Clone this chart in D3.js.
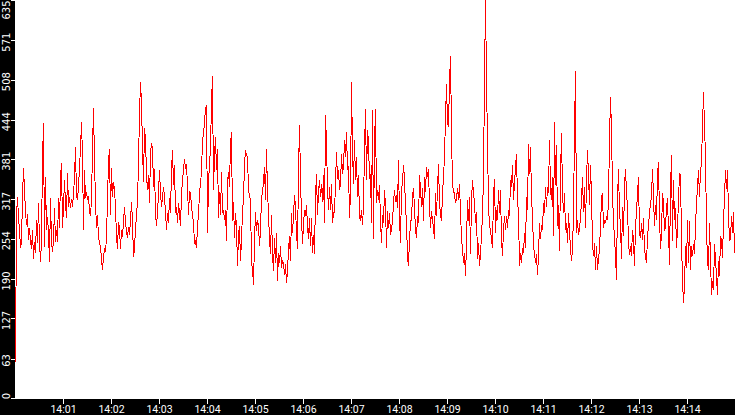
<!DOCTYPE html>
<meta charset="utf-8">
<style>

body {
  margin: 0;
  background: #fff;
}

svg {
  display: block;
}

path.trace {
  fill: none;
  stroke: #ff0000;
  stroke-width: 1;
  shape-rendering: crispEdges;
}

.tick-line {
  stroke: #fff;
  stroke-width: 1;
  shape-rendering: crispEdges;
}

.ylabel {
  fill: #fff;
  font-family: 'DejaVu Sans', sans-serif;
  font-size: 10px;
}

.xlabel {
  fill: #fff;
  font-family: Roboto, sans-serif;
  font-size: 10.5px;
}

</style>
<body>
<div id='chart'></div>
<script src="https://cdn.jsdelivr.net/npm/d3@7/dist/d3.min.js"></script>
<script>
// one sample every 1.25 s from 14:00:00 to 14:15:00
var startTime = "14:00:00";
var endTime = "14:15:00";
var stepMs = 1250;

var yTickLabels = [0, 63, 127, 190, 254, 317, 381, 444, 508, 571, 635];
var xTickLabels = ["14:01", "14:02", "14:03", "14:04", "14:05", "14:06", "14:07",
                   "14:08", "14:09", "14:10", "14:11", "14:12", "14:13", "14:14"];

var values = [
  // 14:00 - 14:01:30
  57, 292, 321, 287, 268, 240, 248, 321, 367, 332,
  297, 276, 294, 252, 271, 251, 237, 268, 221, 249,
  232, 284, 248, 311, 248, 217, 252, 379, 438, 241,
  352, 268, 289, 264, 217, 319, 248, 233, 252, 303,
  249, 268, 249, 319, 271, 352, 375, 271, 305, 348,
  311, 287, 359, 305, 321, 303, 318, 305, 325, 352,
  400, 321, 316, 337, 367, 400, 440, 387, 268, 364,
  319, 329, 316, 322, 297, 291, 316, 398, 462, 379,
  313, 271, 292, 256, 248, 241, 221, 205, 225, 237,
  233, 256, 319, 376, 398, 292, 367, 321, 344, 332,
  305, 257, 237, 281, 271, 237, 268, 257, 281, 305,
  281, 264, 256, 273, 260, 284, 313, 281, 225,
  // 14:02 - 14:04
  237, 271, 290, 316, 374, 454, 504, 469, 401, 345,
  430, 414, 356, 332, 356, 311, 390, 406, 398, 337,
  366, 295, 274, 295, 327, 364, 327, 305, 321, 337,
  321, 297, 268, 295, 279, 319, 295, 364, 395, 340,
  372, 295, 305, 279, 311, 295, 274, 324, 348, 364,
  382, 366, 374, 337, 292, 329, 327, 305, 292, 279,
  247, 250, 239, 274, 292, 327, 342, 361, 411, 422,
  440, 461, 467, 263, 342, 374, 398, 472, 514, 332,
  387, 417, 364, 398, 287, 329, 292, 361, 295, 300,
  284, 300, 250, 345, 361, 337, 406, 424, 282, 313,
  255, 295, 274, 210, 260, 274, 218, 252, 297, 319,
  372, 395, 387, 385, 334, 321, 316, 218, 205, 181,
  250,
  // 14:05 - 14:07
  297, 266, 284, 276, 242, 268, 321, 327, 345, 369,
  316, 398, 329, 295, 253, 229, 292, 231, 202, 255,
  215, 263, 186, 231, 215, 242, 208, 218, 215, 197,
  213, 184, 202, 237, 258, 218, 295, 263, 292, 324,
  305, 263, 237, 361, 435, 350, 290, 245, 276, 300,
  290, 308, 274, 253, 287, 242, 287, 231, 260, 229,
  321, 358, 292, 327, 348, 321, 342, 313, 356, 279,
  451, 406, 334, 300, 337, 300, 342, 279, 295, 297,
  342, 393, 350, 364, 332, 340, 390, 358, 369, 411,
  385, 424, 366, 369, 287, 327, 504, 398, 342, 411,
  348, 385, 321, 356, 290, 282, 300, 276, 305, 398,
  461, 348, 427, 408, 350, 358, 279, 459, 253, 408,
  // 14:07:30 - 14:10
  461, 311, 332, 316, 340, 282, 247, 292, 279, 332,
  308, 239, 298, 271, 295, 260, 271, 282, 311, 332,
  313, 324, 303, 380, 287, 247, 332, 345, 372, 350,
  305, 279, 226, 210, 253, 279, 287, 321, 335, 303,
  268, 255, 290, 279, 356, 335, 305, 335, 282, 353,
  329, 369, 353, 366, 308, 271, 298, 284, 271, 253,
  327, 290, 335, 374, 311, 292, 282, 327, 353, 385,
  446, 501, 440, 432, 504, 546, 427, 337, 332, 324,
  311, 319, 335, 316, 342, 297, 255, 237, 216, 231,
  194, 247, 316, 282, 321, 229, 316, 348, 327, 311,
  279, 297, 221, 247, 210, 229, 260, 290, 356, 506,
  636, 509, 406, 308, 274, 268, 253, 239, 324, 350,
  // 14:10 - 14:11
  263, 300, 284, 332, 295, 332, 253, 226, 268, 290,
  268, 290, 271, 300, 290, 348, 337, 372, 316, 342,
  369, 390, 316, 295, 210, 231, 215, 239, 231, 263,
  239, 321, 300, 406, 358, 401, 321, 290, 242, 231,
  215, 229, 197, 226, 279, 253, 276, 268, 311, 295,
  337, 305, 337, 327, 411,
  // 14:11 - 14:13:30
  332, 316, 353, 258, 440, 340, 403, 274, 308, 234,
  356, 422, 327, 295, 327, 268, 279, 247, 295, 266,
  239, 218, 239, 292, 424, 522, 263, 284, 260, 271,
  287, 316, 353, 297, 337, 271, 348, 395, 356, 308,
  372, 324, 247, 226, 247, 205, 242, 205, 221, 239,
  274, 319, 327, 271, 284, 279, 290, 284, 316, 411,
  480, 430, 329, 279, 258, 226, 189, 316, 366, 295,
  276, 221, 305, 258, 337, 366, 327, 305, 247, 229,
  242, 226, 268, 252, 210, 274, 297, 327, 353, 263,
  255, 279, 252, 287, 237, 226, 215, 258, 274, 295,
  311, 321, 366, 321, 274, 308, 284, 358, 377, 290,
  237, 263, 327, 311, 266, 274, 303, 319, 266, 213,
  // 14:13:30 - 14:15
  332, 387, 250, 348, 284, 303, 239, 271, 316, 358,
  356, 255, 186, 152, 178, 242, 208, 284, 215, 282,
  205, 242, 226, 245, 229, 274, 311, 337, 364, 321,
  364, 374, 435, 488, 435, 385, 276, 215, 205, 279,
  221, 165, 186, 173, 245, 221, 194, 165, 218, 194,
  258, 252, 223, 282, 321, 364, 334, 364, 295, 250,
  255, 290, 263, 297, 231
];

var width = 735, height = 415;
var left = 15, plotBottom = 398;

var parseTime = d3.timeParse("%H:%M:%S");
var parseTick = d3.timeParse("%H:%M");
var t0 = parseTime(startTime);

var data = values.map(function(v, i) {
  return { t: new Date(+t0 + i * stepMs), v: v };
});

var x = d3.scaleTime()
  .domain([t0, parseTime(endTime)])
  .range([left, width]);

var y = d3.scaleLinear()
  .domain([0, d3.max(yTickLabels)])
  .range([plotBottom, 0]);

var svg = d3.select('#chart')
  .append('svg')
  .attr('width', width)
  .attr('height', height);

svg.append('rect')
  .attr('width', width)
  .attr('height', height)
  .attr('fill', '#fff');

svg.append('defs')
  .append('clipPath')
  .attr('id', 'plot-clip')
  .append('rect')
  .attr('x', left)
  .attr('y', 0)
  .attr('width', width - left)
  .attr('height', plotBottom + 1);

var line = d3.line()
  .x(function(d) { return x(d.t); })
  .y(function(d) { return y(d.v); });

svg.append('g')
  .attr('clip-path', 'url(#plot-clip)')
  .append('path')
  .datum(data)
  .attr('class', 'trace')
  .attr('transform', 'translate(0.5,0)')
  .attr('d', line);

// black axis bands
svg.append('rect')
  .attr('x', 0).attr('y', 0)
  .attr('width', left).attr('height', height)
  .attr('fill', '#000');

svg.append('rect')
  .attr('x', 0).attr('y', plotBottom + 1)
  .attr('width', width).attr('height', height - plotBottom - 1)
  .attr('fill', '#000');

// y axis
var yg = svg.append('g');

yTickLabels.forEach(function(v) {
  var py = Math.round(y(v)) + 0.5;
  yg.append('line')
    .attr('class', 'tick-line')
    .attr('x1', 11).attr('x2', left)
    .attr('y1', py).attr('y2', py);

  var cy = Math.max(10, Math.min(396, y(v) + 2));
  yg.append('text')
    .attr('class', 'ylabel')
    .attr('text-anchor', 'middle')
    .attr('transform', 'translate(9.5,' + cy + ') rotate(-90)')
    .text(v);
});

// x axis
var xg = svg.append('g');

xTickLabels.forEach(function(s) {
  var px = Math.round(x(parseTick(s))) + 0.5;
  xg.append('line')
    .attr('class', 'tick-line')
    .attr('x1', px).attr('x2', px)
    .attr('y1', plotBottom + 1).attr('y2', plotBottom + 6);

  xg.append('text')
    .attr('class', 'xlabel')
    .attr('text-anchor', 'middle')
    .attr('x', px)
    .attr('y', 413)
    .text(s);
});

</script>
</body>
